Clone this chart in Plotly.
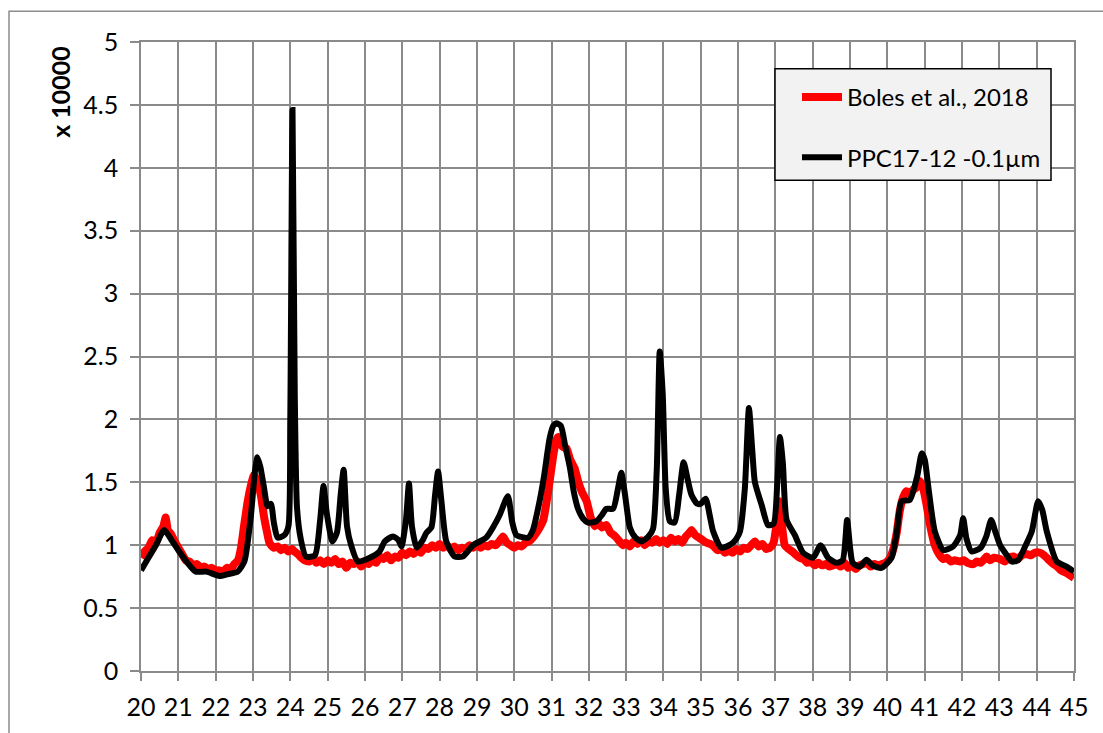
import plotly.graph_objects as go

# ---- data ----
black_x = [20.00, 20.20, 20.40, 20.62, 20.80, 21.07, 21.30, 21.47, 21.75, 22.10, 22.33, 22.59, 22.77, 22.94,
           23.05, 23.12, 23.20, 23.30, 23.39, 23.48, 23.56, 23.66, 23.84, 23.95, 24.00, 24.06, 24.12, 24.18,
           24.28, 24.42, 24.66, 24.80, 24.89, 24.98, 25.13, 25.25, 25.35, 25.43, 25.52, 25.63, 25.81, 26.13,
           26.39, 26.53, 26.75, 26.90, 26.98, 27.10, 27.18, 27.26, 27.39, 27.55, 27.65, 27.78, 27.88, 27.96,
           28.05, 28.18, 28.40, 28.62, 28.90, 29.25, 29.45, 29.61, 29.83, 29.95, 30.06, 30.37, 30.50, 30.68,
           30.80, 30.95, 31.05, 31.13, 31.25, 31.36, 31.49, 31.60, 31.71, 31.85, 31.98, 32.20, 32.35, 32.47,
           32.65, 32.78, 32.87, 32.97, 33.10, 33.25, 33.41, 33.60, 33.72, 33.82, 33.90, 33.98, 34.06, 34.17,
           34.30, 34.42, 34.54, 34.65, 34.75, 34.90, 35.00, 35.13, 35.25, 35.33, 35.55, 35.82, 35.95, 36.05,
           36.18, 36.29, 36.38, 36.45, 36.63, 36.80, 36.95, 37.05, 37.12, 37.20, 37.30, 37.52, 37.74, 38.01,
           38.21, 38.41, 38.64, 38.80, 38.92, 39.00, 39.07, 39.26, 39.44, 39.60, 39.84, 40.11, 40.25, 40.38,
           40.60, 40.80, 40.92, 41.00, 41.09, 41.27, 41.50, 41.76, 41.95, 42.03, 42.12, 42.26, 42.50, 42.65,
           42.78, 42.90, 43.02, 43.20, 43.33, 43.50, 43.69, 43.87, 44.04, 44.15, 44.27, 44.54, 44.80, 45.00]
black_y = [0.80, 0.90, 1.00, 1.12, 1.05, 0.93, 0.84, 0.79, 0.79, 0.755, 0.77, 0.79, 0.87, 1.22,
           1.58, 1.70, 1.62, 1.45, 1.31, 1.33, 1.18, 1.06, 1.08, 1.15, 2.00, 4.46, 2.20, 1.30,
           1.05, 0.91, 0.92, 1.20, 1.47, 1.25, 1.03, 1.10, 1.40, 1.60, 1.15, 1.00, 0.87, 0.90,
           0.95, 1.03, 1.07, 1.04, 0.99, 1.20, 1.49, 1.15, 0.98, 1.04, 1.10, 1.14, 1.40, 1.585,
           1.35, 1.03, 0.91, 0.91, 1.00, 1.06, 1.15, 1.24, 1.39, 1.18, 1.08, 1.06, 1.12, 1.35,
           1.55, 1.85, 1.95, 1.97, 1.95, 1.80, 1.62, 1.42, 1.29, 1.21, 1.18, 1.19, 1.24, 1.29,
           1.29, 1.45, 1.575, 1.40, 1.14, 1.06, 1.03, 1.07, 1.13, 1.60, 2.54, 2.20, 1.45, 1.19,
           1.18, 1.40, 1.66, 1.52, 1.40, 1.33, 1.33, 1.37, 1.22, 1.11, 0.98, 1.01, 1.05, 1.11,
           1.45, 2.09, 1.75, 1.50, 1.32, 1.16, 1.17, 1.50, 1.86, 1.65, 1.20, 1.08, 0.94, 0.90,
           1.00, 0.90, 0.86, 0.88, 1.20, 0.98, 0.86, 0.83, 0.885, 0.84, 0.82, 0.90, 1.10, 1.35,
           1.36, 1.55, 1.73, 1.68, 1.48, 1.11, 0.96, 0.99, 1.08, 1.215, 1.05, 0.95, 0.98, 1.07,
           1.20, 1.10, 1.00, 0.92, 0.87, 0.88, 0.99, 1.11, 1.35, 1.28, 1.11, 0.87, 0.83, 0.79]

red_x = [20.00, 20.10, 20.20, 20.30, 20.40, 20.50, 20.60, 20.66, 20.72, 20.80, 20.90, 21.00, 21.10, 21.20,
         21.30, 21.40, 21.50, 21.60, 21.70, 21.80, 21.90, 22.00, 22.10, 22.20, 22.30, 22.40, 22.50, 22.60,
         22.68, 22.76, 22.86, 22.95, 23.03, 23.12, 23.21, 23.30, 23.38, 23.44, 23.55, 23.66, 23.75, 23.85,
         23.95, 24.05, 24.11, 24.20, 24.30, 24.38, 24.50, 24.60, 24.70, 24.80, 24.90, 25.00, 25.10, 25.20,
         25.30, 25.40, 25.50, 25.60, 25.70, 25.80, 25.90, 26.00, 26.10, 26.20, 26.30, 26.40, 26.50, 26.60,
         26.70, 26.80, 26.90, 27.00, 27.10, 27.20, 27.30, 27.40, 27.50, 27.60, 27.70, 27.80, 27.90, 28.00,
         28.10, 28.20, 28.30, 28.40, 28.50, 28.60, 28.70, 28.80, 28.90, 29.00, 29.10, 29.20, 29.30, 29.40,
         29.50, 29.60, 29.70, 29.80, 29.90, 30.00, 30.10, 30.20, 30.30, 30.40, 30.50, 30.60, 30.70, 30.78,
         30.87, 30.95, 31.05, 31.12, 31.18, 31.25, 31.32, 31.40, 31.50, 31.62, 31.72, 31.82, 31.94, 32.05,
         32.16, 32.25, 32.35, 32.47, 32.58, 32.67, 32.74, 32.85, 32.92, 33.00, 33.10, 33.20, 33.30, 33.40,
         33.50, 33.60, 33.70, 33.80, 33.90, 34.00, 34.10, 34.20, 34.30, 34.40, 34.50, 34.60, 34.70, 34.75,
         34.85, 34.95, 35.05, 35.15, 35.25, 35.35, 35.45, 35.55, 35.65, 35.75, 35.85, 35.95, 36.05, 36.15,
         36.25, 36.35, 36.45, 36.55, 36.65, 36.75, 36.85, 36.95, 37.03, 37.10, 37.16, 37.25, 37.35, 37.45,
         37.56, 37.65, 37.75, 37.85, 37.95, 38.05, 38.15, 38.25, 38.35, 38.45, 38.55, 38.65, 38.75, 38.85,
         38.95, 39.05, 39.15, 39.25, 39.35, 39.45, 39.55, 39.65, 39.75, 39.85, 39.95, 40.07, 40.16, 40.25,
         40.33, 40.42, 40.51, 40.60, 40.69, 40.78, 40.87, 40.96, 41.05, 41.15, 41.27, 41.38, 41.50, 41.60,
         41.70, 41.80, 41.94, 42.05, 42.15, 42.30, 42.40, 42.50, 42.60, 42.66, 42.75, 42.85, 43.02, 43.15,
         43.25, 43.38, 43.50, 43.60, 43.73, 43.85, 43.95, 44.09, 44.20, 44.30, 44.45, 44.55, 44.65, 44.72,
         44.80, 44.90, 45.00]
red_y = [0.90, 0.95, 0.98, 1.04, 1.02, 1.10, 1.15, 1.22, 1.12, 1.09, 1.03, 0.98, 0.93, 0.88,
         0.87, 0.84, 0.85, 0.82, 0.83, 0.81, 0.82, 0.80, 0.80, 0.79, 0.82, 0.81, 0.85, 0.88,
         0.98, 1.15, 1.35, 1.48, 1.56, 1.50, 1.40, 1.22, 1.10, 1.02, 0.98, 0.99, 0.96, 0.98,
         0.95, 0.97, 0.95, 0.93, 0.90, 0.88, 0.87, 0.89, 0.86, 0.88, 0.85, 0.88, 0.86, 0.89,
         0.85, 0.87, 0.82, 0.86, 0.85, 0.87, 0.83, 0.86, 0.85, 0.88, 0.86, 0.91, 0.89, 0.92,
         0.88, 0.91, 0.90, 0.94, 0.92, 0.95, 0.93, 0.96, 0.94, 0.98, 0.97, 1.00, 0.98, 1.01,
         0.98, 1.00, 0.97, 0.99, 0.96, 0.98, 0.97, 1.00, 0.98, 1.01, 0.98, 1.00, 0.99, 1.01,
         1.00, 1.03, 1.07, 1.02, 1.00, 0.98, 1.00, 0.99, 1.02, 1.03, 1.06, 1.10, 1.15, 1.20,
         1.35, 1.51, 1.72, 1.83, 1.86, 1.80, 1.78, 1.77, 1.68, 1.61, 1.50, 1.42, 1.35, 1.22,
         1.15, 1.18, 1.14, 1.16, 1.10, 1.08, 1.06, 1.02, 1.00, 1.02, 0.99, 1.03, 1.01, 1.04,
         1.00, 1.03, 1.02, 1.05, 1.02, 1.04, 1.01, 1.06, 1.03, 1.05, 1.02, 1.07, 1.10, 1.12,
         1.08, 1.06, 1.04, 1.02, 1.01, 0.99, 0.96, 0.97, 0.94, 0.96, 0.94, 0.97, 0.95, 0.98,
         0.97, 1.00, 1.03, 0.99, 1.01, 0.97, 0.98, 1.02, 1.17, 1.35, 1.20, 1.00, 0.97, 0.95,
         0.92, 0.90, 0.89, 0.86, 0.87, 0.84, 0.86, 0.84, 0.85, 0.83, 0.84, 0.85, 0.83, 0.86,
         0.82, 0.84, 0.81, 0.84, 0.85, 0.86, 0.83, 0.85, 0.84, 0.85, 0.86, 0.90, 0.97, 1.10,
         1.27, 1.38, 1.43, 1.41, 1.44, 1.46, 1.51, 1.45, 1.32, 1.15, 1.00, 0.93, 0.89, 0.90,
         0.87, 0.88, 0.87, 0.88, 0.86, 0.85, 0.87, 0.86, 0.89, 0.91, 0.88, 0.90, 0.89, 0.87,
         0.90, 0.91, 0.89, 0.92, 0.93, 0.92, 0.94, 0.94, 0.92, 0.89, 0.85, 0.83, 0.80, 0.79,
         0.78, 0.76, 0.74]

series_names = ["Boles et al., 2018", "PPC17-12 -0.1\u00b5m"]
y_title = "x 10000"
x_ticks = list(range(20, 46))
y_ticks = [0, 0.5, 1, 1.5, 2, 2.5, 3, 3.5, 4, 4.5, 5]

# ---- figure ----
FONT = "Lato"
GRID = "#8a8a8a"
W, H = 1103, 733
ML, MR, MT, MB = 141, 29, 42, 59
PW, PH = W - ML - MR, H - MT - MB


def px2paper_x(px):
    return (px - ML) / PW


def px2paper_y(py):
    return (H - MB - py) / PH


fig = go.Figure()
fig.add_trace(go.Scatter(x=red_x, y=red_y, mode="lines", name=series_names[0],
                         line=dict(color="#ff0000", width=8, shape="spline", smoothing=0.5),
                         legendgroup="a"))
fig.add_trace(go.Scatter(x=black_x, y=black_y, mode="lines", name=series_names[1],
                         line=dict(color="#000000", width=6, shape="spline", smoothing=0.6),
                         legendgroup="b"))

axis_common = dict(showgrid=True, gridcolor=GRID, gridwidth=1.5, zeroline=False,
                   showline=True, linecolor=GRID, linewidth=1.5, mirror=True,
                   ticks="outside", tickcolor=GRID, tickwidth=1.5,
                   tickfont=dict(family=FONT, size=25, color="#000000"))

fig.update_layout(
    width=W, height=H,
    margin=dict(l=ML, r=MR, t=MT, b=MB),
    paper_bgcolor="white", plot_bgcolor="white",
    font=dict(family=FONT, size=25, color="#000000"),
    xaxis=dict(range=[20, 45], tickvals=x_ticks, ticktext=[str(v) for v in x_ticks],
               ticklen=8, ticklabelstandoff=5, **axis_common),
    yaxis=dict(range=[0, 5], tickvals=y_ticks, ticktext=[f"{v:g}" for v in y_ticks],
               ticklen=9, ticklabelstandoff=7, **axis_common),
    showlegend=True,
    legend=dict(x=px2paper_x(797), y=px2paper_y(75), xanchor="left", yanchor="top",
                bgcolor="rgba(0,0,0,0)", borderwidth=0,
                font=dict(family=FONT, size=24, color="#000000"),
                tracegroupgap=26, itemwidth=40),
    annotations=[dict(text="<b>" + y_title + "</b>", xref="paper", yref="paper",
                      x=px2paper_x(60), y=px2paper_y(92), showarrow=False,
                      textangle=-90, font=dict(family=FONT, size=25, color="#000000"),
                      xanchor="center", yanchor="middle")],
    shapes=[
        dict(type="rect", xref="paper", yref="paper",
             x0=px2paper_x(9), x1=px2paper_x(W + 20),
             y0=px2paper_y(H + 20), y1=px2paper_y(11),
             line=dict(color="#8c8c8c", width=1.5), fillcolor="rgba(0,0,0,0)",
             layer="below"),
        dict(type="rect", xref="paper", yref="paper",
             x0=px2paper_x(775), x1=px2paper_x(1051),
             y0=px2paper_y(181), y1=px2paper_y(69),
             line=dict(color="#000000", width=1.5), fillcolor="#f2f2f2",
             layer="above"),
    ],
)

fig.write_html("out.html")
